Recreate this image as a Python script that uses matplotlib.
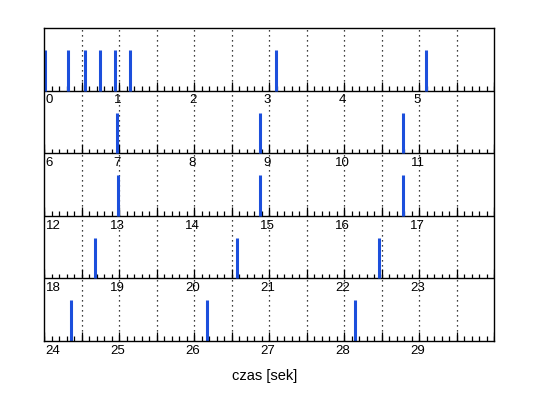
import matplotlib
matplotlib.use("Agg")
import matplotlib.pyplot as plt
import numpy as np

# event times [s]
events = [0.01, 0.32, 0.54, 0.74, 0.94, 1.15, 3.09, 5.09,
          6.97, 8.88, 10.79,
          12.99, 14.88, 16.79,
          18.68, 20.58, 22.47,
          24.36, 26.18, 28.14]
row_len = 6       # seconds per strip
n_rows = 5
bar_h = 0.65

plt.rcParams['font.family'] = ['Liberation Sans', 'DejaVu Sans']

fig = plt.figure(figsize=(5.38, 3.98), dpi=100)
ax = fig.add_axes([44/538, 1 - 341/398, 450/538, 313/398])
ax.set_xlim(0, row_len)
ax.set_ylim(0, n_rows)

# dotted grid every 0.5 s
grid_x = np.arange(0.5, row_len, 0.5)
ax.vlines(grid_x, 0, n_rows, colors='k', linestyles=(0, (1, 3)), lw=0.9)

minor = np.arange(0, row_len + 0.001, 0.1)
major = np.arange(0, row_len + 0.001, 0.5)

for r in range(n_rows):
    base = n_rows - 1 - r
    if base > 0:
        ax.axhline(base, color='k', lw=1)
    ax.vlines(minor, base, base + 0.075, colors='k', lw=0.9)
    ax.vlines(major, base, base + 0.145, colors='k', lw=0.9)
    for k in range(row_len):
        if k == 0:
            ax.text(0.02, base - 0.06, str(row_len * r + k), ha='left', va='top',
                    fontsize=9.5, clip_on=False)
        else:
            ax.text(k - 0.02, base - 0.06, str(row_len * r + k), ha='center', va='top',
                    fontsize=9.5, clip_on=False)

# events
ev = np.array(events)
rows = (ev // row_len).astype(int)
xs = ev - rows * row_len
bases = n_rows - 1 - rows
ax.vlines(xs, bases, bases + bar_h, colors='#1c4fdc', lw=2.2)

ax.set_xticks([])
ax.set_yticks([])
for s in ax.spines.values():
    s.set_linewidth(1)

fig.text(265/538, 1 - 376/398, 'czas [sek]', ha='center', va='center', fontsize=10.5)

fig.savefig('out.png', dpi=100)
